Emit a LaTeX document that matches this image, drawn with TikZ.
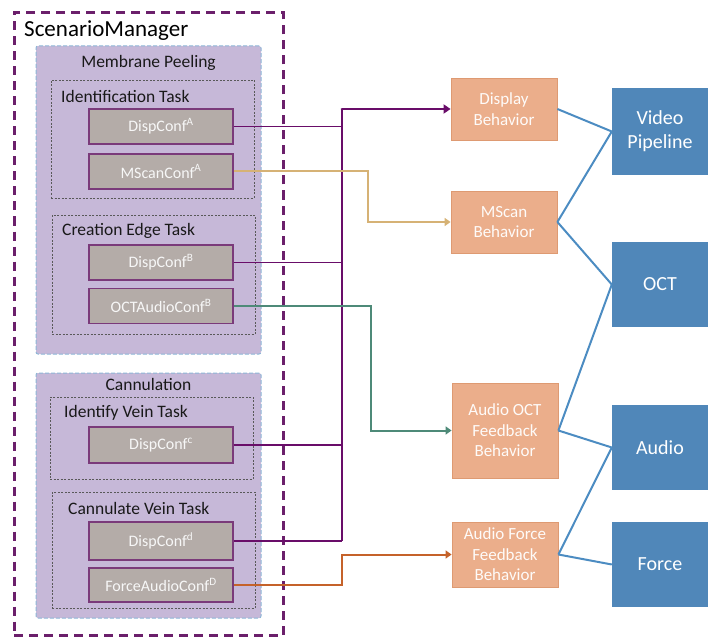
\documentclass[tikz,border=0pt]{standalone}
\usepackage{fontspec}
\setmainfont{Carlito}
\usetikzlibrary{arrows.meta}
\definecolor{outerP}{HTML}{6B1F6B}
\definecolor{groupF}{HTML}{C6B8D8}
\definecolor{groupB}{HTML}{8DB6D6}
\definecolor{cfgF}{HTML}{B4ACA8}
\definecolor{cfgB}{HTML}{7A3A7A}
\definecolor{behF}{HTML}{EBAE8B}
\definecolor{behB}{HTML}{DE9A72}
\definecolor{devF}{HTML}{5087B9}
\definecolor{blueL}{HTML}{4C8CC2}
\definecolor{purpL}{HTML}{690D69}
\definecolor{tanL}{HTML}{D6B275}
\definecolor{greenL}{HTML}{4E8A78}
\definecolor{orangeL}{HTML}{C5622A}
\tikzset{
  outerbox/.style={draw=outerP, line width=3pt, dash pattern=on 9pt off 6pt, minimum width=269pt, minimum height=623pt, inner sep=0},
  groupbox/.style={draw=groupB, fill=groupF, line width=1pt, dash pattern=on 4pt off 2pt, rounded corners=2pt, inner sep=0},
  taskbox/.style={draw=black!65, line width=0.6pt, dash pattern=on 2pt off 1.5pt, inner sep=0},
  cfg/.style={draw=cfgB, fill=cfgF, line width=1.2pt, text=white!94!gray, minimum width=144pt, minimum height=35pt, inner sep=0, font=\fontsize{16}{19}\selectfont},
  beh/.style={draw=behB, fill=behF, line width=0.8pt, text=white!95!behF, minimum width=106pt, inner sep=0, align=center, font=\fontsize{17}{20.5}\selectfont},
  dev/.style={fill=devF, text=white, minimum width=96pt, minimum height=86pt, inner sep=0, align=center, font=\fontsize{20}{24}\selectfont},
  title/.style={font=\fontsize{17.5}{20}\selectfont, inner sep=0, text=black!90},
  pline/.style={draw=purpL, line width=1.8pt},
  pbus/.style={draw=purpL, line width=2.4pt},
  bline/.style={draw=blueL, line width=2pt},
  cline/.style={line width=2pt, -{Triangle[length=6pt,width=8pt]}},
}
\begin{document}
\begin{tikzpicture}[x=1pt,y=-1pt]
\useasboundingbox (0,0) rectangle (709,639);
% outer
\node[outerbox] (sm) at (148.5,324) {};
\node[anchor=west, inner sep=0, font=\fontsize{23}{26}\selectfont] (smt) at (24,31) {ScenarioManager};
% groups
\node[groupbox, minimum width=225pt, minimum height=308pt] (mp) at (148.5,200) {};
\node[title] (mpt) at (148.5,63) {Membrane Peeling};
\node[groupbox, minimum width=225pt, minimum height=245pt] (can) at (148.5,495.5) {};
\node[title] (cant) at (148.5,384) {Cannulation};
% tasks
\node[taskbox, minimum width=203pt, minimum height=118pt] (t1) at (152.5,139) {};
\node[title, anchor=west] (t1t) at (61,96) {Identification Task};
\node[taskbox, minimum width=203pt, minimum height=119pt] (t2) at (153.5,274.5) {};
\node[title, anchor=west] (t2t) at (62,231) {Creation Edge Task};
\node[taskbox, minimum width=203pt, minimum height=82pt] (t3) at (151.5,438) {};
\node[title, anchor=west] (t3t) at (64,413) {Identify Vein Task};
\node[taskbox, minimum width=203pt, minimum height=116pt] (t4) at (153.5,550) {};
\node[title, anchor=west] (t4t) at (68,508) {Cannulate Vein Task};
% configs
\node[cfg] (dA) at (161,126.5) {DispConf\textsuperscript{A}};
\node[cfg] (mA) at (161,171.5) {MScanConf\textsuperscript{A}};
\node[cfg] (dB) at (161,262.5) {DispConf\textsuperscript{B}};
\node[cfg] (oB) at (161,306) {OCTAudioConf\textsuperscript{B}};
\node[cfg, minimum height=36pt] (dC) at (161,445) {DispConf\textsuperscript{c}};
\node[cfg, minimum height=38pt] (dD) at (161,541) {DispConf\textsuperscript{d}};
\node[cfg, minimum height=34pt] (fD) at (161,585) {ForceAudioConf\textsuperscript{D}};
% behaviors
\node[beh, minimum height=62pt] (disp) at (504,109) {Display\\Behavior};
\node[beh, minimum height=62pt] (msc) at (504,222) {MScan\\Behavior};
\node[beh, minimum height=95pt] (aoct) at (505,430.5) {Audio OCT\\Feedback\\Behavior};
\node[beh, minimum height=65pt] (afor) at (505,554.5) {Audio Force\\Feedback\\Behavior};
% devices
\node[dev, minimum height=87pt] (vid) at (660,131.5) {Video\\Pipeline};
\node[dev, minimum height=85pt] (oct) at (660,284.5) {OCT};
\node[dev, minimum height=85pt] (aud) at (660,447.5) {Audio};
\node[dev, minimum height=85pt] (frc) at (660,564.5) {Force};
% purple bus
\coordinate (busTop) at (342,109);
\coordinate (busBot) at (342,541);
\draw[pline] (dA.east) -- (dA.east -| busTop);
\draw[pline] (dB.east) -- (dB.east -| busTop);
\draw[pline] (dC.east) -- (dC.east -| busTop);
\draw[pline] (dD.east) -- (busBot);
\draw[pbus] (busTop) -- (busBot);
\draw[pbus, line width=2.8pt, line cap=round, -{Triangle[length=7pt,width=9pt]}] (busTop) -- (disp.west);
% tan
\coordinate (tanX) at (368,0);
\draw[cline, draw=tanL] (mA.east) -- (mA.east -| tanX) |- (msc.west);
% green
\coordinate (grX) at (371,0);
\draw[cline, draw=greenL] (oB.east) -- (oB.east -| grX) |- (aoct.west);
% orange
\coordinate (orX) at (342,0);
\draw[cline, draw=orangeL] (fD.east) -- (fD.east -| orX) |- (afor.west);
% blue
\draw[bline] (disp.east) -- (vid.west);
\draw[bline] (msc.east) -- (vid.west);
\draw[bline] (msc.east) -- (oct.west);
\draw[bline] (aoct.east) -- (oct.west);
\draw[bline] (aoct.east) -- (aud.west);
\draw[bline] (afor.east) -- (aud.west);
\draw[bline] (afor.east) -- (frc.west);
\end{tikzpicture}
\end{document}
